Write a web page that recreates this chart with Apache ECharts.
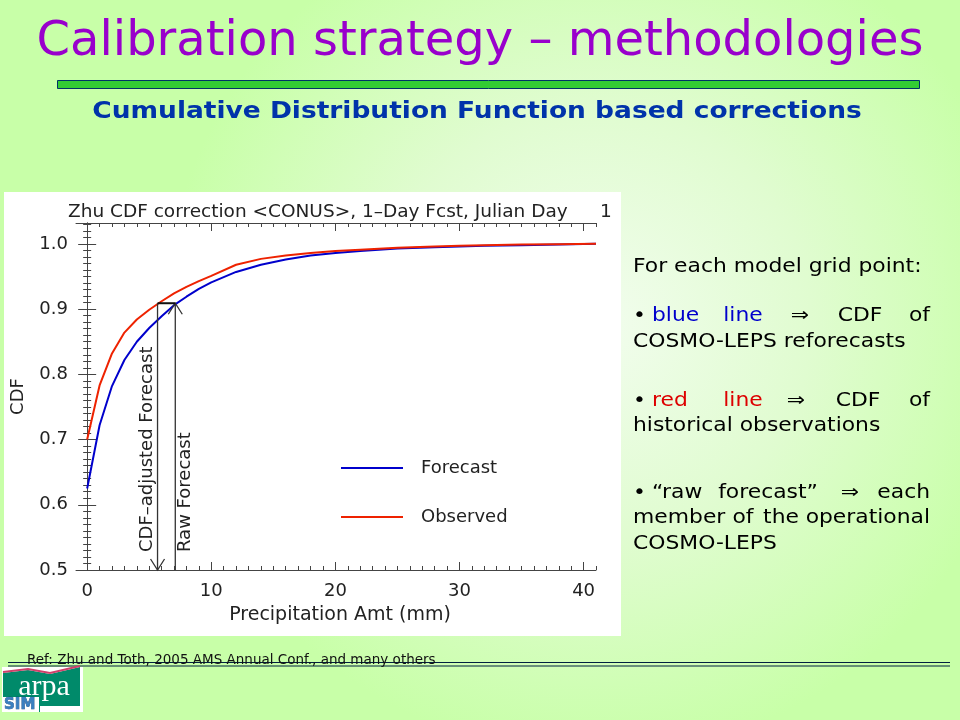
<!DOCTYPE html>
<html>
<head>
<meta charset="utf-8">
<script src="https://cdn.jsdelivr.net/npm/echarts@6/dist/echarts.min.js"></script>
<style>html,body{margin:0;padding:0;}#c{width:960px;height:720px;}</style>
</head>
<body>
<div id="c"></div>
<script>
// ---- data ----
var precip = [0,1,2,3,4,5,6,7,8,9,10,12,14,16,18,20,22,25,28,30,32,35,38,41];
var forecastCDF = [0.625,0.722,0.782,0.822,0.850,0.871,0.889,0.906,0.919,0.931,0.941,0.957,0.968,0.976,0.982,0.986,0.989,0.993,0.995,0.996,0.997,0.998,0.999,1.000];
var observedCDF = [0.700,0.783,0.832,0.864,0.884,0.899,0.912,0.924,0.934,0.943,0.951,0.968,0.977,0.982,0.986,0.989,0.991,0.994,0.996,0.997,0.998,0.999,0.9995,1.000];
var xMajorTicks = [0,10,20,30,40];
var xMinorTicks = [];
for (var i = 0; i <= 41; i++) xMinorTicks.push(i);
var yMajorTicks = [0.5,0.6,0.7,0.8,0.9,1.0];
var yMinorTicks = [];
for (var j = 50; j <= 103; j++) yMinorTicks.push(j/100);
var arrowAdjusted = 5.67;   // CDF-adjusted forecast (mm)
var arrowRaw = 7.1;         // raw forecast (mm)
var arrowLevel = 0.909;     // CDF level

var chartFont = 'DejaVu Sans';
var axisColor = '#444';

function pairs(xs, ys){ return xs.map(function(x,k){ return [x, ys[k]]; }); }

function xAx(pos, ticks, len, labels, line){
  return {
    type:'value', gridIndex:0, position:pos, min:-0.9, max:41,
    axisLine:{show:line, lineStyle:{color:axisColor, width:1}},
    axisTick:{show:true, inside:true, length:len, customValues:ticks, lineStyle:{color:axisColor}},
    axisLabel:labels ? {show:true, customValues:xMajorTicks, fontFamily:chartFont, fontSize:18, color:'#222', margin:12} : {show:false},
    splitLine:{show:false}, minorTick:{show:false}
  };
}
function yAx(pos, ticks, len, labels, line){
  return {
    type:'value', gridIndex:0, position:pos, min:0.5, max:1.032,
    axisLine:{show:line, lineStyle:{color:axisColor, width:1}},
    axisTick:{show:true, inside:true, length:len, customValues:ticks, lineStyle:{color:axisColor}},
    axisLabel:labels ? {show:true, customValues:yMajorTicks, fontFamily:chartFont, fontSize:18, color:'#222', margin:8,
      formatter:function(v){ return v.toFixed(1); }} : {show:false},
    splitLine:{show:false}, minorTick:{show:false}
  };
}

var xAxes = [xAx('bottom', xMajorTicks, 8, true, true), xAx('bottom', xMinorTicks, 4, false, false),
             xAx('top', xMajorTicks, 8, false, true), xAx('top', xMinorTicks, 4, false, false)];
xAxes[0].name = 'Precipitation Amt (mm)';
xAxes[0].nameLocation = 'middle';
xAxes[0].nameGap = 36;
xAxes[0].nameTextStyle = {fontFamily:chartFont, fontSize:19, color:'#222', padding:[0,0,0,8]};
var yAxes = [yAx('left', yMajorTicks, 9, true, true), yAx('left', yMinorTicks, 4, false, false),
             yAx('right', yMajorTicks, 9, false, true), yAx('right', yMinorTicks, 4, false, false)];
yAxes[0].name = 'CDF';
yAxes[0].nameLocation = 'middle';
yAxes[0].nameGap = 49;
yAxes[0].nameTextStyle = {fontFamily:chartFont, fontSize:18, color:'#222'};

var SX = 1.15;
function words(list, y, color){
  return list.map(function(w){
    return {type:'text', x:w[1], y:y, scaleX:SX, style:{text:w[0], fill:w[3]||'#000', font:'19px "DejaVu Sans"', textAlign:w[2]||'left', textVerticalAlign:'middle'}};
  });
}

var graphics = [
  {type:'rect', shape:{x:4, y:192, width:617, height:444}, style:{fill:'#ffffff'}, z:-10},
  {type:'rect', shape:{x:57.5, y:80.5, width:862, height:8}, style:{fill:'#33cc33', stroke:'#003366', lineWidth:1}},
  {type:'text', x:480, y:43, style:{text:'Calibration strategy \u2013 methodologies', fill:'#9900cc', font:'48px "DejaVu Sans"', textAlign:'center', textVerticalAlign:'middle'}},
  {type:'text', x:477, y:112, scaleX:1.15, style:{text:'Cumulative Distribution Function based corrections', fill:'#0033aa', font:'bold 23px "DejaVu Sans"', textAlign:'center', textVerticalAlign:'middle'}},
  {type:'line', shape:{x1:8, y1:662.5, x2:950, y2:662.5}, style:{stroke:'#002040', lineWidth:1}},
  {type:'line', shape:{x1:8, y1:666, x2:950, y2:666}, style:{stroke:'#002040', lineWidth:1}},
  {type:'text', x:27, y:660, style:{text:'Ref: Zhu and Toth, 2005 AMS Annual Conf., and many others', fill:'#111', font:'13.5px "DejaVu Sans"', textAlign:'left', textVerticalAlign:'middle'}},
  // logo
  {type:'rect', shape:{x:2, y:667, width:81, height:45}, style:{fill:'#ffffff'}},
  {type:'polygon', shape:{points:[[3,673],[28,670],[50,674],[80,667],[80,706],[40,706],[40,712],[3,712]]}, style:{fill:'#008a6a'}},
  {type:'polyline', shape:{points:[[3,672],[28,669],[50,673],[80,666]]}, style:{stroke:'#d0406a', lineWidth:2}},
  {type:'text', x:44, y:687, style:{text:'arpa', fill:'#ffffff', font:'30px "Liberation Serif"', textAlign:'center', textVerticalAlign:'middle'}},
  {type:'rect', shape:{x:3, y:697, width:36, height:15}, style:{fill:'#ffffff'}},
  {type:'text', x:4, y:705, style:{text:'SIM', fill:'#3a7fc0', stroke:'#0a3a70', lineWidth:0.6, font:'bold 15px "DejaVu Sans"', textAlign:'left', textVerticalAlign:'middle'}}
];
graphics = graphics.concat(
  words([['For each model grid point:',633]], 267),
  words([['\u2022',633],['blue',652,'left','#0000cc'],['line',743,'center','#0000cc'],['\u21d2',800,'center'],['CDF',860,'center'],['of',930,'right']], 316),
  words([['COSMO-LEPS reforecasts',633]], 342),
  words([['\u2022',633],['red',652,'left','#dd0000'],['line',743,'center','#dd0000'],['\u21d2',796,'center'],['CDF',858,'center'],['of',930,'right']], 401),
  words([['historical observations',633]], 426),
  words([['\u2022',633],['\u201craw',652],['forecast\u201d',768,'center'],['\u21d2',850,'center'],['each',930,'right']], 493),
  words([['member',633],['of',743,'center'],['the',781,'center'],['operational',930,'right']], 518),
  words([['COSMO-LEPS',633]], 544)
);

var option = {
  animation:false,
  backgroundColor:{type:'radial', x:0.62, y:0.45, r:0.6, colorStops:[{offset:0,color:'#f2fdee'},{offset:0.5,color:'#e0fcd0'},{offset:1,color:'#c8ffa8'}]},
  title:[{text:'Zhu CDF correction <CONUS>, 1\u2013Day Fcst, Julian Day', left:63, top:198,
          textStyle:{fontFamily:chartFont, fontSize:18.5, fontWeight:'normal', color:'#222'}},
         {text:'1', left:595, top:198, textStyle:{fontFamily:chartFont, fontSize:18.5, fontWeight:'normal', color:'#222'}}],
  grid:{left:76, top:223, width:520, height:347, containLabel:false, outerBoundsMode:'none'},
  legend:{orient:'vertical', left:336, top:454, icon:'rect', itemWidth:62, itemHeight:2, itemGap:31, data:['Forecast','Observed'],
    textStyle:{fontFamily:chartFont, fontSize:18, color:'#222', padding:[0,0,0,13]}},
  xAxis:xAxes,
  yAxis:yAxes,
  graphic:graphics,
  series:[
    {name:'Forecast', type:'line', xAxisIndex:0, yAxisIndex:0, data:pairs(precip, forecastCDF), symbol:'none', lineStyle:{color:'#0000cc', width:2}, itemStyle:{color:'#0000cc'}, z:3},
    {name:'Observed', type:'line', xAxisIndex:0, yAxisIndex:0, data:pairs(precip, observedCDF), symbol:'none', lineStyle:{color:'#ee2200', width:2}, itemStyle:{color:'#ee2200'}, z:3},
    {name:'arrows', type:'custom', xAxisIndex:0, yAxisIndex:0, coordinateSystem:'cartesian2d', z:4,
     data:[[arrowAdjusted, arrowRaw, arrowLevel]],
     renderItem:function(params, api){
       var a = api.value(0), r = api.value(1), lv = api.value(2);
       var pTopA = api.coord([a, lv]), pBotA = api.coord([a, 0.5]);
       var pTopR = api.coord([r, lv]), pBotR = api.coord([r, 0.5]);
       var st = {stroke:'#333', lineWidth:1.3, fill:'none'};
       return {type:'group', children:[
         {type:'line', shape:{x1:pTopA[0], y1:pTopA[1], x2:pBotA[0], y2:pBotA[1]}, style:st},
         {type:'polyline', shape:{points:[[pBotA[0]-7,pBotA[1]-11],[pBotA[0],pBotA[1]],[pBotA[0]+7,pBotA[1]-11]]}, style:st},
         {type:'line', shape:{x1:pBotR[0], y1:pBotR[1], x2:pTopR[0], y2:pTopR[1]}, style:st},
         {type:'polyline', shape:{points:[[pTopR[0]-7,pTopR[1]+11],[pTopR[0],pTopR[1]],[pTopR[0]+7,pTopR[1]+11]]}, style:st},
         {type:'line', shape:{x1:pTopA[0], y1:pTopA[1], x2:pTopR[0], y2:pTopR[1]}, style:{stroke:'#111', lineWidth:2}},
         {type:'text', x:pBotA[0]-10, y:pBotA[1]-18, rotation:Math.PI/2, style:{text:'CDF\u2013adjusted Forecast', fill:'#222', font:'18px "DejaVu Sans"', align:'left', verticalAlign:'middle'}},
         {type:'text', x:pBotR[0]+10, y:pBotR[1]-18, rotation:Math.PI/2, style:{text:'Raw Forecast', fill:'#222', font:'18px "DejaVu Sans"', align:'left', verticalAlign:'middle'}}
       ]};
     }}
  ]
};
var chart = echarts.init(document.getElementById('c'));
chart.setOption(option);
</script>
</body>
</html>
